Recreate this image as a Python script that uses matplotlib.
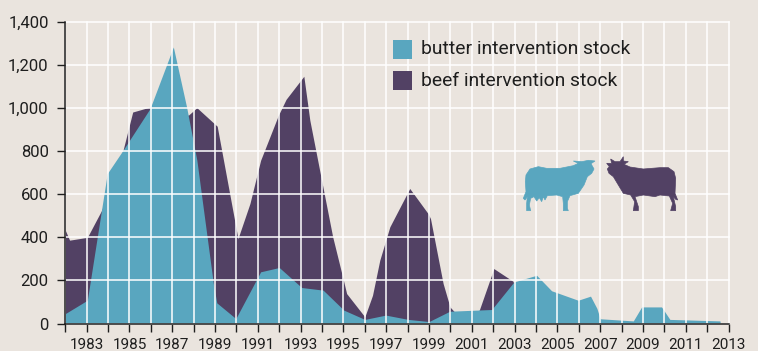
import matplotlib.pyplot as plt
from matplotlib.patches import Polygon, Rectangle

W, H = 758, 351
BG = '#EAE4DE'
BUTTER = '#59A6BF'
BEEF = '#524164'
INK = '#1E1E1E'

plt.rcParams['font.family'] = ['Roboto', 'Liberation Sans', 'DejaVu Sans']

# values
beef_years = [1982, 1982.2, 1983.03, 1983.7, 1984.7, 1985.15, 1985.96, 1987, 1987.75, 1988.15, 1989, 1989.1,
              1989.97, 1990.07, 1990.63, 1991.13, 1991.96, 1992.32, 1993.15, 1993.43, 1993.98, 1994.5,
              1994.96, 1995.15, 1996, 1996.36, 1996.7, 1997.17, 1998.1, 1998.96, 1999.07, 1999.66, 1999.98,
              2000.5, 2001.35, 2002.03, 2002.93, 2003.5]
beef_stock = [433, 387, 400, 526, 805, 982, 1005, 1000, 967, 1002, 925, 916,
              449, 394, 557, 758, 967, 1041, 1148, 944, 665, 402,
              217, 139, 31, 131, 294, 449, 627, 510, 487, 186, 77,
              20, 62, 255, 196, 0]
butter_years = [1982, 1983.03, 1983.96, 1984.7, 1985.96, 1987.05, 1987.67, 1988.15, 1988.92, 1989.08, 1989.97,
                1991.13, 1992, 1993.05, 1994.05, 1995.02, 1996, 1996.98, 1998.03, 1999, 1999.97, 2001.93,
                2002.97, 2004.03, 2004.73, 2005.97, 2006.55, 2006.85, 2007, 2008.55, 2008.94, 2009.87, 2010.26,
                2012.6, 2012.62]
butter_stock = [46, 108, 696, 805, 998, 1284, 1005, 758, 186, 96, 23,
                240, 260, 167, 155, 62, 19, 39, 19, 9, 57, 65,
                193, 224, 152, 108, 127, 70, 22, 12, 77, 77, 19,
                12, 0]
x_ticks = list(range(1982, 2014))
x_labels = [str(y) if y % 2 == 1 else '' for y in x_ticks]
y_ticks = [0, 200, 400, 600, 800, 1000, 1200, 1400]
y_labels = ['0', '200', '400', '600', '800', '1,000', '1,200', '1,400']
legend_labels = ['butter intervention stock', 'beef intervention stock']

# cow outlines, in pixels of the picture
cow_butter = [(48, 90), (60, 72), (85, 65), (110, 70), (150, 70), (190, 62), (205, 55), (190, 48), (215, 50),
              (235, 46), (255, 48), (243, 56), (252, 72), (245, 85), (232, 95), (222, 120), (205, 145), (180, 152),
              (172, 170), (172, 190), (175, 197), (160, 197), (160, 175), (158, 155), (140, 150), (112, 152),
              (105, 165), (100, 155), (95, 170), (88, 158), (80, 168), (72, 155), (62, 160), (58, 180), (62, 197),
              (50, 197), (50, 175), (52, 155), (45, 165), (40, 160), (48, 140), (46, 110)]
cow_beef = [(290, 55), (305, 55), (302, 42), (315, 50), (330, 50), (340, 35), (340, 48), (355, 50), (342, 58),
            (360, 66), (400, 72), (450, 68), (475, 68), (492, 80), (497, 100), (495, 145), (503, 165), (497, 163),
            (490, 155), (497, 185), (497, 197), (482, 197), (488, 175), (478, 153), (450, 150), (435, 155),
            (400, 150), (375, 155), (385, 185), (385, 197), (370, 197), (374, 170), (362, 150), (340, 145),
            (325, 120), (310, 95), (297, 85), (292, 72), (298, 65)]


def px(x, y):
    return x / W, 1 - y / H


fig = plt.figure(figsize=(W / 100, H / 100), dpi=100, facecolor=BG)
ax = fig.add_axes([65.3 / W, 1 - 323.5 / H, (728.5 - 65.3) / W, (323.5 - 22) / H], facecolor=BG)

ax.fill_between(beef_years, beef_stock, color=BEEF, lw=0, zorder=1)
ax.fill_between(butter_years, butter_stock, color=BUTTER, lw=0, zorder=2)

ax.set_xlim(1982, 2013)
ax.set_ylim(0, 1400)
ax.set_xticks(x_ticks, x_labels)
ax.set_yticks(y_ticks, y_labels)
ax.grid(True, color='white', lw=1.1, zorder=3)
ax.set_axisbelow(False)
for line in ax.get_xgridlines() + ax.get_ygridlines():
    line.set_clip_on(False)

ax.spines['top'].set_visible(False)
ax.spines['right'].set_visible(False)
ax.spines['left'].set_color(INK)
ax.spines['bottom'].set_color(INK)
ax.spines['left'].set_linewidth(1.1)
ax.spines['bottom'].set_linewidth(1.1)
ax.spines['left'].set_zorder(5)
ax.spines['bottom'].set_zorder(5)
ax.tick_params(axis='x', length=6, width=1, color=INK, pad=4.5, labelsize=11, labelcolor=INK)
ax.tick_params(axis='y', length=6, width=1, color=INK, pad=6, labelsize=12, labelcolor=INK)

# legend
for label, color, top in zip(legend_labels, [BUTTER, BEEF], [40, 71]):
    x0, y0 = px(393, top + 19)
    fig.add_artist(Rectangle((x0, y0), 19 / W, 19 / H, transform=fig.transFigure, color=color, lw=0, zorder=6))
    tx, ty = px(421, top + 9.5)
    fig.text(tx, ty, label, fontsize=13.9, color=INK, va='center', ha='left', zorder=6)

# the two cows
for outline, color in [(cow_butter, BUTTER), (cow_beef, BEEF)]:
    pts = [px(510 + x / 3, 145 + y / 3) for x, y in outline]
    fig.add_artist(Polygon(pts, closed=True, transform=fig.transFigure, facecolor=color, edgecolor=color,
                           lw=0.5, zorder=6))

fig.savefig('out.png', dpi=100, facecolor=BG)
